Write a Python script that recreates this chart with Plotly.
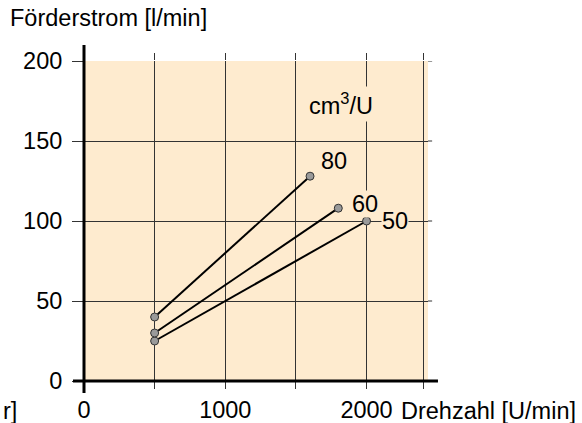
import plotly.graph_objects as go

# Data
displacement_labels = ["50", "60", "80"]          # cm³/U
speed_start = [500, 500, 500]                    # U/min
speed_end = [2000, 1800, 1600]                   # U/min
flow_start = [25, 30, 40]                        # l/min
flow_end = [100, 108, 128]                       # l/min
label_shift_x = [14, 13, 10]
label_shift_y = [0, 4, 15]

x_tickvals = [0, 1000, 2000]
x_ticktext = ["0", "1000", "2000"]
x_minor_vals = [500, 1500, 2400]
y_tickvals = [0, 50, 100, 150, 200]
y_ticktext = ["0", "50", "100", "150", "200"]

FONT = "Liberation Sans, Arial, Helvetica, sans-serif"
FS = 23.5
PEACH = "#FEEBCF"
GRID = "#333333"

fig = go.Figure()

for i in range(len(displacement_labels)):
    fig.add_trace(go.Scatter(
        x=[speed_start[i], speed_end[i]],
        y=[flow_start[i], flow_end[i]],
        mode="lines+markers",
        line=dict(color="black", width=2),
        marker=dict(size=8, color="#9a9a9a", line=dict(color="#333333", width=1)),
        showlegend=False,
        cliponaxis=False,
    ))
    fig.add_annotation(
        x=speed_end[i], y=flow_end[i], xref="x", yref="y",
        text=displacement_labels[i], showarrow=False,
        xanchor="left", yanchor="middle",
        xshift=label_shift_x[i], yshift=label_shift_y[i],
        bgcolor=PEACH, borderpad=0,
        font=dict(family=FONT, size=FS, color="black"),
    )

fig.add_annotation(
    x=1819, y=173, xref="x", yref="y",
    text="cm<sup>3</sup>/U", showarrow=False,
    xanchor="center", yanchor="middle",
    bgcolor=PEACH, borderpad=2,
    font=dict(family=FONT, size=FS, color="black"),
)

# axis titles
fig.add_annotation(
    x=-0.22, y=1.134, xref="paper", yref="paper",
    text="Förderstrom [l/min]", showarrow=False,
    xanchor="left", yanchor="middle",
    font=dict(family=FONT, size=FS, color="black"),
)
fig.add_annotation(
    x=0.915, y=-0.094, xref="paper", yref="paper",
    text="Drehzahl [U/min]", showarrow=False,
    xanchor="left", yanchor="middle",
    font=dict(family=FONT, size=FS, color="black"),
)
fig.add_annotation(
    x=-0.2425, y=-0.094, xref="paper", yref="paper",
    text="r]", showarrow=False,
    xanchor="left", yanchor="middle",
    font=dict(family=FONT, size=FS, color="black"),
)

shapes = []
# thick axis lines
shapes.append(dict(type="line", xref="paper", yref="paper",
                   x0=0, x1=0, y0=-0.0375, y1=1.05,
                   line=dict(color="black", width=3)))
shapes.append(dict(type="line", xref="paper", yref="paper",
                   x0=-0.032, x1=1.029, y0=0, y1=0,
                   line=dict(color="black", width=3)))
# right-hand stubs of horizontal grid lines
for v in y_tickvals[1:]:
    shapes.append(dict(type="line", xref="paper", yref="y",
                       x0=1.0, x1=1.012, y0=v, y1=v,
                       line=dict(color=GRID, width=1)))
fig.update_layout(shapes=shapes)

fig.update_xaxes(
    range=[0, 2435], tickvals=x_tickvals, ticktext=x_ticktext,
    showgrid=True, gridcolor=GRID, gridwidth=1,
    ticks="outside", ticklen=7, tickcolor=GRID, tickwidth=1,
    minor=dict(tickvals=x_minor_vals, showgrid=True, gridcolor=GRID, gridwidth=1,
               ticks="outside", ticklen=7, tickcolor=GRID, tickwidth=1),
    mirror="ticks", showline=False, zeroline=False, automargin=False,
    tickfont=dict(family=FONT, size=FS, color="black"),
    ticklabelstandoff=1,
)
fig.update_yaxes(
    range=[0, 200], tickvals=y_tickvals, ticktext=y_ticktext,
    showgrid=True, gridcolor=GRID, gridwidth=1,
    ticks="outside", ticklen=11, tickcolor=GRID, tickwidth=1,
    showline=False, zeroline=False, automargin=False,
    tickfont=dict(family=FONT, size=FS, color="black"),
    ticklabelstandoff=5,
)

fig.update_layout(
    width=582, height=423, autosize=False,
    margin=dict(l=84, r=154, t=61, b=42, pad=0),
    plot_bgcolor=PEACH, paper_bgcolor="white",
    font=dict(family=FONT, size=FS, color="black"),
    showlegend=False,
)

fig.write_html("out.html",
               config={"displayModeBar": False},
               post_script="document.body.style.margin='0';document.body.style.overflow='hidden';")
